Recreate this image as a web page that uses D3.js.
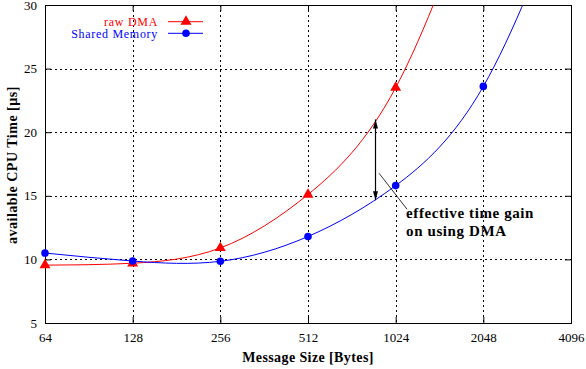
<!DOCTYPE html>
<html>
<head>
<meta charset="utf-8">
<script src="https://cdn.jsdelivr.net/npm/d3@7"></script>
<style>
  body { margin: 0; background: #fff; }
  svg text { font-family: "Liberation Serif", "DejaVu Serif", serif; }
</style>
</head>
<body>
<svg id="chart" width="586" height="369"></svg>
<script>
// message sizes in bytes (log2 axis)
var sizes = [64, 128, 256, 512, 1024, 2048, 4096];
var xTicks = [64, 128, 256, 512, 1024, 2048, 4096];
var yTicks = [5, 10, 15, 20, 25, 30];

// available CPU time [us]
var rawDMA = [9.55, 9.7, 10.9, 15.1, 23.5, 40.5];
var sharedMem = [10.5, 9.87, 9.85, 11.8, 15.8, 23.6, 39.5];

// annotation: gain at ~ 870 bytes, between the two curves
var gainX = 870;
var gainTop = 21.0, gainBottom = 14.65;

var margin = {top: 5, right: 15, bottom: 46, left: 45},
    width = 586 - margin.left - margin.right,
    height = 369 - margin.top - margin.bottom;

var svg = d3.select("#chart");

var x = d3.scaleLog().base(2).domain([64, 4096]).range([0, width]);
var y = d3.scaleLinear().domain([5, 30]).range([height, 0]);

var g = svg.append("g")
    .attr("transform", "translate(" + margin.left + "," + margin.top + ")");

svg.append("defs").append("clipPath").attr("id", "plotclip")
  .append("rect").attr("width", width).attr("height", height);

// grid
var grid = g.append("g").attr("stroke", "#000").attr("stroke-width", 1)
    .attr("stroke-dasharray", "2,3").attr("shape-rendering", "crispEdges");
xTicks.slice(1, -1).forEach(function (t) {
    grid.append("line").attr("x1", Math.round(x(t)) + 0.5).attr("x2", Math.round(x(t)) + 0.5)
        .attr("y1", 0).attr("y2", height);
});
yTicks.slice(1, -1).forEach(function (t) {
    grid.append("line").attr("y1", Math.round(y(t)) + 0.5).attr("y2", Math.round(y(t)) + 0.5)
        .attr("x1", 0).attr("x2", width);
});

// axes (inward ticks, mirrored)
var xAxis = d3.axisBottom(x).tickValues(xTicks).tickFormat(d3.format("d")).tickSizeInner(-6).tickSizeOuter(0).tickPadding(10);
var yAxis = d3.axisLeft(y).tickValues(yTicks).tickSizeInner(-6).tickSizeOuter(0).tickPadding(8);

function styleAxis(sel) {
    sel.select(".domain").remove();
    sel.selectAll("line").attr("stroke", "#000");
    sel.selectAll("text").attr("font-size", "13px").attr("fill", "#000")
        .attr("font-family", "Liberation Serif, serif");
}
g.append("g").attr("transform", "translate(0," + height + ")").call(xAxis).call(styleAxis);
g.append("g").call(yAxis).call(styleAxis);
g.append("g").call(d3.axisTop(x).tickValues(xTicks).tickSizeInner(-6).tickSizeOuter(0).tickFormat(""))
    .call(styleAxis);
g.append("g").attr("transform", "translate(" + width + ",0)")
    .call(d3.axisRight(y).tickValues(yTicks).tickSizeInner(-6).tickSizeOuter(0).tickFormat(""))
    .call(styleAxis);

// border
g.append("rect").attr("x", 0.5).attr("y", 0.5).attr("width", width).attr("height", height)
    .attr("fill", "none").attr("stroke", "#000").attr("stroke-width", 1)
    .attr("shape-rendering", "crispEdges");

// series
var line = d3.line().curve(d3.curveNatural)
    .x(function (d) { return x(d[0]); })
    .y(function (d) { return y(d[1]); });

var series = [
    {name: "raw DMA", color: "#ff0000", values: rawDMA, marker: "triangle"},
    {name: "Shared Memory", color: "#0000ff", values: sharedMem, marker: "circle"}
];

var plot = g.append("g").attr("clip-path", "url(#plotclip)");

function marker(sel, type, color) {
    if (type === "triangle") {
        sel.append("path").attr("d", d3.symbol().type(d3.symbolTriangle).size(52)())
            .attr("fill", color);
    } else {
        sel.append("circle").attr("r", 3.8).attr("fill", color);
    }
}

series.forEach(function (s) {
    var pts = s.values.map(function (v, i) { return [sizes[i], v]; });
    plot.append("path").datum(pts).attr("d", line)
        .attr("fill", "none").attr("stroke", s.color).attr("stroke-width", 1);
    pts.filter(function (d) { return d[1] <= 30; }).forEach(function (d) {
        var m = g.append("g").attr("transform", "translate(" + x(d[0]) + "," + y(d[1]) + ")");
        marker(m, s.marker, s.color);
    });
});

// legend
var legend = g.append("g").attr("transform", "translate(0,0)");
series.forEach(function (s, i) {
    var ly = 16.7 + i * 11.6;
    legend.append("text").attr("x", 113).attr("y", ly + 4.5)
        .attr("text-anchor", "end").attr("font-size", "12px").attr("letter-spacing", "0.7px")
        .attr("fill", s.color).text(s.name);
    legend.append("line").attr("x1", 123).attr("x2", 158).attr("y1", ly).attr("y2", ly)
        .attr("stroke", s.color).attr("stroke-width", 1);
    var m = legend.append("g").attr("transform", "translate(141," + ly + ")");
    marker(m, s.marker, s.color);
});

// annotation arrow
var ax = Math.round(x(gainX)) + 0.5;
var ann = g.append("g").attr("stroke", "#000").attr("fill", "#000");
ann.append("line").attr("x1", ax).attr("x2", ax).attr("y1", y(gainTop)).attr("y2", y(gainBottom))
    .attr("stroke-width", 1.2);
function head(yTip, dir) {
    ann.append("path")
        .attr("d", "M" + ax + "," + yTip + "L" + (ax - 2.5) + "," + (yTip + dir * 9) + "L" + (ax + 2.5) + "," + (yTip + dir * 9) + "Z")
        .attr("stroke", "none");
}
head(y(gainTop), 1);
head(y(gainBottom), -1);

// pointer line to label
ann.append("line")
    .attr("x1", x(gainX) + 4).attr("y1", y(gainBottom) - 27)
    .attr("x2", x(gainX) + 32).attr("y2", y(gainBottom) + 9)
    .attr("stroke-width", 0.8);

var note = g.append("text").attr("x", x(gainX) + 31).attr("y", y(gainBottom) + 17.5)
    .attr("font-size", "15px").attr("font-weight", "bold").attr("letter-spacing", "0.6px")
    .attr("fill", "#000");
note.append("tspan").text("effective time gain");
note.append("tspan").attr("x", x(gainX) + 31).attr("dy", 18).text("on using DMA");

// axis titles
svg.append("text").attr("x", margin.left + width / 2).attr("y", 362)
    .attr("text-anchor", "middle").attr("font-size", "14px").attr("font-weight", "bold")
    .attr("letter-spacing", "0.4px")
    .text("Message Size [Bytes]");
svg.append("text").attr("transform", "translate(17," + (margin.top + height / 2 + 1) + ") rotate(-90)")
    .attr("text-anchor", "middle").attr("font-size", "14px").attr("font-weight", "bold")
    .attr("letter-spacing", "0.5px")
    .text("available CPU Time [\u00b5s]");
</script>
</body>
</html>
